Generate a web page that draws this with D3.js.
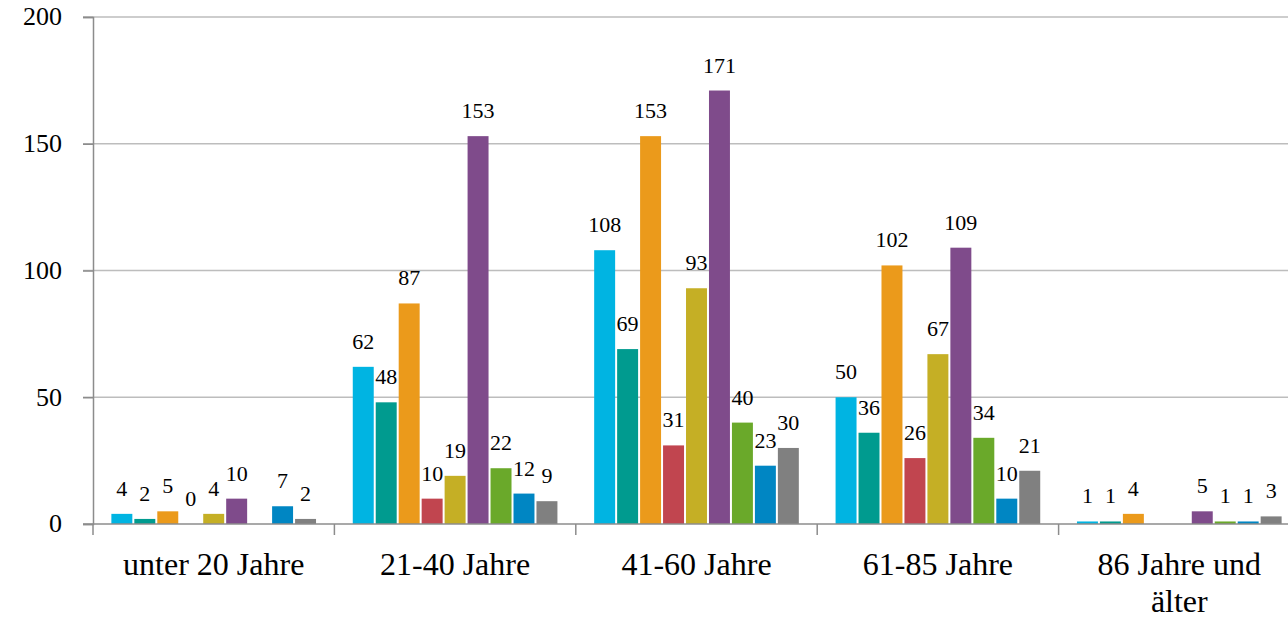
<!DOCTYPE html>
<html><head><meta charset="utf-8">
<script src="https://cdn.jsdelivr.net/npm/d3@7"></script>
<style>html,body{margin:0;padding:0;background:#fff;overflow:hidden}</style>
</head><body>
<svg id="c" width="1288" height="619"></svg>
<script>
const categories = ["unter 20 Jahre", "21-40 Jahre", "41-60 Jahre", "61-85 Jahre", "86 Jahre und älter"];
const s1 = [4, 62, 108, 50, 1];
const s2 = [2, 48, 69, 36, 1];
const s3 = [5, 87, 153, 102, 4];
const s4 = [0, 10, 31, 26, null];
const s5 = [4, 19, 93, 67, null];
const s6 = [10, 153, 171, 109, 5];
const s7 = [null, 22, 40, 34, 1];
const s8 = [7, 12, 23, 10, 1];
const s9 = [2, 9, 30, 21, 3];
const seriesValues = [s1, s2, s3, s4, s5, s6, s7, s8, s9];
const colors = ["#00b4e2", "#009b8f", "#eb9a1b", "#c1454f", "#c5af25", "#7f4b8b", "#6aa92a", "#0086c3", "#808080"];
const yTicks = [0, 50, 100, 150, 200];

(function(){
const svg = d3.select("#c");
const mLeft = 93, mRight = 1300, mTop = 17, mBottom = 524;
const x0 = d3.scaleBand().domain(categories).range([mLeft, mRight]).paddingInner(0).paddingOuter(0);
const x1 = d3.scaleBand().domain(d3.range(9)).range([0, x0.bandwidth()]).paddingInner(0.087).paddingOuter(0.8);
const y = d3.scaleLinear().domain([0, 200]).range([mBottom, mTop]);
const font = "'Liberation Serif', 'DejaVu Serif', serif";

// gridlines
svg.append("g").selectAll("line").data(yTicks.filter(d => d > 0)).join("line")
  .attr("x1", mLeft - 10).attr("x2", mRight).attr("y1", d => y(d)).attr("y2", d => y(d))
  .attr("stroke", "#bdbdbd").attr("stroke-width", 1.5);

// bars
const groups = svg.append("g").selectAll("g").data(categories).join("g")
  .attr("transform", d => `translate(${x0(d)},0)`);
groups.each(function(cat, ci) {
  const g = d3.select(this);
  const vals = seriesValues.map((s, si) => ({si, v: s[ci]})).filter(d => d.v !== null);
  g.selectAll("rect").data(vals).join("rect")
    .attr("x", d => x1(d.si)).attr("width", x1.bandwidth())
    .attr("y", d => y(d.v)).attr("height", d => y(0) - y(d.v))
    .attr("fill", d => colors[d.si]);
  g.selectAll("text").data(vals).join("text")
    .attr("x", d => x1(d.si) + x1.bandwidth() / 2)
    .attr("y", d => y(d.v) - 18)
    .attr("text-anchor", "middle")
    .attr("font-family", font).attr("font-size", 22).attr("fill", "#000")
    .text(d => d.v);
});

// y axis
const ya = svg.append("g").attr("transform", `translate(${mLeft},0)`)
  .call(d3.axisLeft(y).tickValues(yTicks).tickSize(10).tickPadding(21));
ya.select(".domain").attr("stroke", "#8c8c8c").attr("stroke-width", 1.5);
ya.selectAll(".tick line").attr("stroke", "#8c8c8c").attr("stroke-width", 1.5);
ya.selectAll(".tick text").attr("font-family", font).attr("font-size", 26).attr("fill", "#000").attr("dy", "0.3em");

// x axis
const xa = svg.append("g").attr("transform", `translate(0,${mBottom})`);
xa.append("line").attr("x1", mLeft - 10).attr("x2", mRight).attr("y1", 0).attr("y2", 0)
  .attr("stroke", "#8c8c8c").attr("stroke-width", 1.5);
xa.selectAll("line.t").data(categories.map(c => x0(c)).concat([mRight])).join("line").attr("class", "t")
  .attr("x1", d => d).attr("x2", d => d).attr("y1", 0).attr("y2", 11)
  .attr("stroke", "#8c8c8c").attr("stroke-width", 1.5);
const labelLines = {"86 Jahre und älter": ["86 Jahre und", "älter"]};
xa.selectAll("text").data(categories).join("text")
  .attr("x", d => x0(d) + x0.bandwidth() / 2)
  .attr("y", 51)
  .attr("text-anchor", "middle")
  .attr("font-family", font).attr("font-size", 32).attr("fill", "#000")
  .each(function(d) {
    const lines = labelLines[d] || [d];
    const t = d3.select(this);
    lines.forEach((l, i) => t.append("tspan").attr("x", x0(d) + x0.bandwidth() / 2).attr("dy", i ? 37 : 0).text(l));
  });
})();
</script>
</body></html>
